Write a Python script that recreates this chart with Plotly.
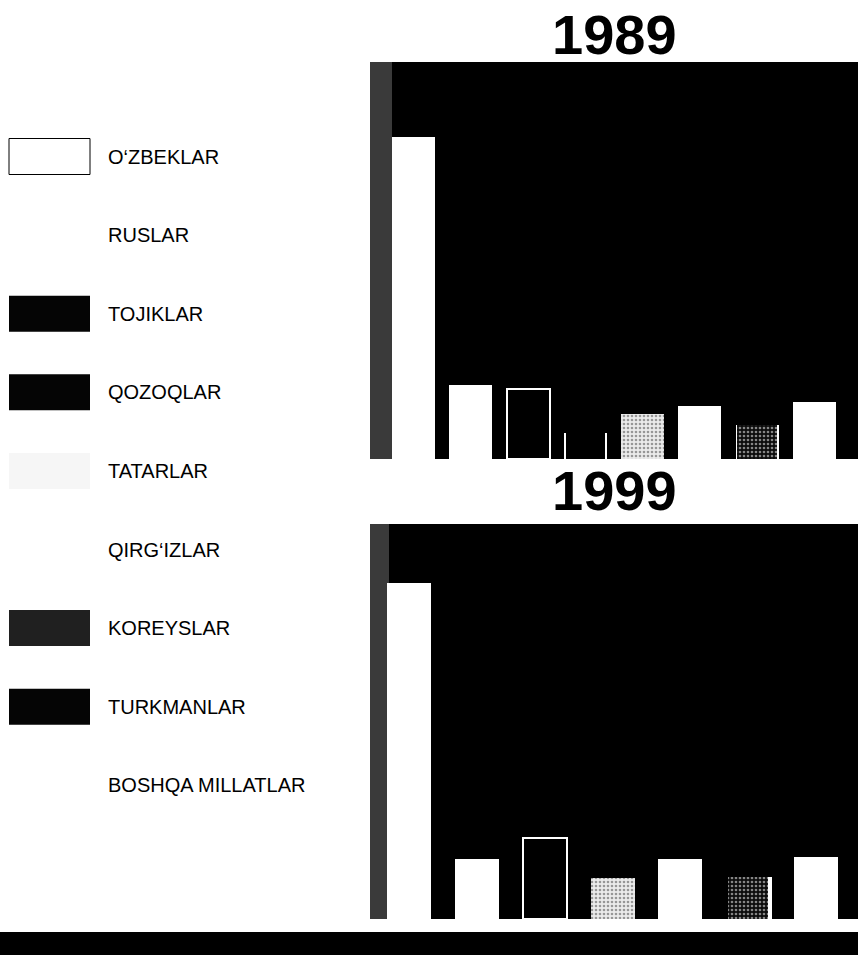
import plotly.graph_objects as go

# ---------------- data ----------------
legend_names = ["O‘ZBEKLAR", "RUSLAR", "TOJIKLAR", "QOZOQLAR", "TATARLAR",
                "QIRG‘IZLAR", "KOREYSLAR", "TURKMANLAR", "BOSHQA MILLATLAR"]

cats_1989 = ["O‘ZBEKLAR", "RUSLAR", "TOJIKLAR", "QOZOQLAR", "TATARLAR",
             "QIRG‘IZLAR", "KOREYSLAR", "BOSHQA MILLATLAR"]
vals_1989 = [81.1, 18.6, 17.6, 6.5, 11.3, 13.4, 8.6, 14.4]

cats_1999 = ["O‘ZBEKLAR", "RUSLAR", "TOJIKLAR", "TATARLAR",
             "QIRG‘IZLAR", "KOREYSLAR", "BOSHQA MILLATLAR"]
vals_1999 = [85.1, 15.2, 20.5, 10.4, 15.2, 10.6, 15.7]

years = ["1989", "1999"]

# ---------------- styles ----------------
W, H = 858, 955
FONT = "Liberation Sans, Arial, sans-serif"

bar_fill = {
    "O‘ZBEKLAR": "#ffffff", "RUSLAR": "#ffffff", "TOJIKLAR": "#000000",
    "QOZOQLAR": "#000000", "TATARLAR": "#ebebeb", "QIRG‘IZLAR": "#ffffff",
    "KOREYSLAR": "#0c0c0c", "TURKMANLAR": "#000000", "BOSHQA MILLATLAR": "#ffffff",
}
bar_pattern = {"TATARLAR": (".", "#999999"), "KOREYSLAR": (".", "#2e2e2e")}
bar_outline = {"TOJIKLAR": 2.0}
side_lines = {"QOZOQLAR", "KOREYSLAR"}

swatch_fill = {
    "O‘ZBEKLAR": "#ffffff", "RUSLAR": "#ffffff", "TOJIKLAR": "#050505",
    "QOZOQLAR": "#050505", "TATARLAR": "#f6f6f6", "QIRG‘IZLAR": "#ffffff",
    "KOREYSLAR": "#202020", "TURKMANLAR": "#050505", "BOSHQA MILLATLAR": "#ffffff",
}
swatch_border = {"O‘ZBEKLAR": "#000000"}


def px_y(p):
    return 1 - p / H


def px_x(p):
    return p / W


panels = [
    dict(cats=cats_1989, vals=vals_1989, xa="x", ya="y", top=62, bottom=459,
         width=0.75, rng=[-0.76, 7.76], strip=22, title_y=35, under_offset=None),
    dict(cats=cats_1999, vals=vals_1999, xa="x2", ya="y2", top=524, bottom=919,
         width=0.65, rng=[-0.583, 6.625], strip=19, title_y=491, under_offset=0.035),
]

fig = go.Figure()
shapes = []
annotations = []

for i, p in enumerate(panels):
    cats, vals = p["cats"], p["vals"]
    w = p["width"]
    # white underlay that shows as thin side lines
    under_colors = ["#ffffff" if c in side_lines else "rgba(0,0,0,0)" for c in cats]
    under = dict(x=cats, y=vals, xaxis=p["xa"], yaxis=p["ya"], width=w,
                 marker=dict(color=under_colors, line=dict(width=0)),
                 hoverinfo="skip", showlegend=False)
    if p["under_offset"] is not None:
        under["offset"] = -w / 2 + p["under_offset"]
    fig.add_trace(go.Bar(**under))

    widths = [w - 0.06 if c in side_lines else w for c in cats]
    fig.add_trace(go.Bar(
        x=cats, y=vals, xaxis=p["xa"], yaxis=p["ya"], width=widths,
        marker=dict(
            color=[bar_fill[c] for c in cats],
            line=dict(color="#ffffff", width=[bar_outline.get(c, 0) for c in cats]),
            pattern=dict(shape=[bar_pattern.get(c, ("", "#000"))[0] for c in cats],
                         fgcolor=[bar_pattern.get(c, ("", "#000"))[1] for c in cats],
                         size=4, solidity=0.35, fillmode="overlay"),
        ),
        showlegend=False, hoverinfo="x+y",
    ))

    # mottled strip on the left edge of the panel
    shapes.append(dict(type="rect", xref=f"{p['xa']} domain", yref=f"{p['ya']} domain",
                       x0=0, x1=p["strip"] / 488, y0=0, y1=1, layer="below",
                       fillcolor="#3a3a3a", line=dict(width=0)))

    annotations.append(dict(text=f"<b>{years[i]}</b>", xref="paper", yref="paper",
                            x=px_x(614), y=px_y(p["title_y"]), xanchor="center",
                            yanchor="middle", showarrow=False,
                            font=dict(family=FONT, size=56, color="#000000")))

# legend built from the names
for k, name in enumerate(legend_names):
    cy = 156.5 + 78.6 * k
    shapes.append(dict(type="rect", xref="paper", yref="paper",
                       x0=px_x(9), x1=px_x(90), y0=px_y(cy + 18), y1=px_y(cy - 18),
                       fillcolor=swatch_fill[name],
                       line=dict(color=swatch_border.get(name, swatch_fill[name]),
                                 width=1 if name in swatch_border else 0)))
    annotations.append(dict(text=name, xref="paper", yref="paper",
                            x=px_x(106), y=px_y(cy), xanchor="left", yanchor="middle",
                            showarrow=False,
                            font=dict(family=FONT, size=20, color="#000000")))

# black stripe at the bottom
shapes.append(dict(type="rect", xref="paper", yref="paper", x0=0, x1=1,
                   y0=0, y1=px_y(932), fillcolor="#000000", line=dict(width=0)))

x0 = px_x(370)
fig.update_layout(
    width=W, height=H,
    margin=dict(l=0, r=0, t=0, b=0),
    paper_bgcolor="#ffffff", plot_bgcolor="#000000",
    barmode="overlay", bargap=0,
    font=dict(family=FONT),
    xaxis=dict(domain=[x0, 1], type="category", range=panels[0]["rng"], visible=False,
               anchor="y", fixedrange=True),
    yaxis=dict(domain=[px_y(459), px_y(62)], range=[0, 100], visible=False,
               anchor="x", fixedrange=True),
    xaxis2=dict(domain=[x0, 1], type="category", range=panels[1]["rng"], visible=False,
                anchor="y2", fixedrange=True),
    yaxis2=dict(domain=[px_y(919), px_y(524)], range=[0, 100], visible=False,
                anchor="x2", fixedrange=True),
    shapes=shapes, annotations=annotations,
)

fig.write_html(
    "out.html",
    config={"displayModeBar": False},
    post_script="document.body.style.margin='0';document.body.style.overflow='hidden';",
)
